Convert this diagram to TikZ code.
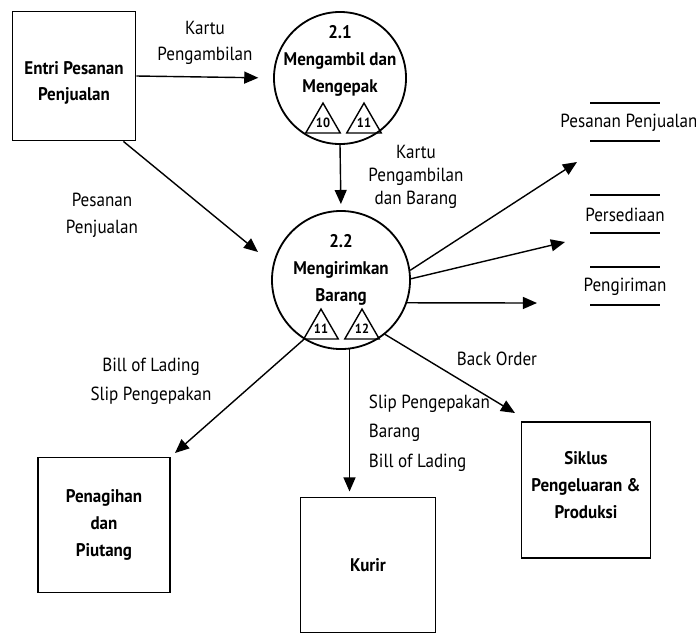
\documentclass[tikz,border=0pt]{standalone}
\usepackage{fontspec}
\setmainfont[FakeStretch=0.9]{PT Sans}
\newfontfamily\headfont[FakeStretch=0.93]{PT Sans Bold}
\usetikzlibrary{
  arrows.meta,
  calc,
  positioning,
  shapes.geometric
}
\tikzset{
  entity/.style = {
    draw, line width=1.3pt, align=center, inner sep=0pt,
    font=\headfont\fontsize{13}{19}\selectfont
  },
  process/.style = {draw, circle, line width=1.3pt, inner sep=0pt},
  ptext/.style = {align=center, font=\headfont\fontsize{13}{19}\selectfont},
  tri/.style = {
    draw, regular polygon, regular polygon sides=3, minimum size=0.9cm,
    inner sep=0pt, line width=1pt, font=\headfont\fontsize{9.5}{9.5}\selectfont
  },
  flow/.style = {line width=1pt, -{Triangle[length=10pt,width=8.5pt]}},
  lbl/.style = {align=center, font=\fontsize{13.5}{19}\selectfont},
  store/.style = {font=\fontsize{13.5}{15}\selectfont},
}

\begin{document}
\begin{tikzpicture}[x=0.025cm, y=-0.025cm]
  \useasboundingbox (0,0) rectangle (696,634);

  % entities
  \node[entity, minimum width=3.075cm, minimum height=3.225cm] (entri) at (74,76) {};
  \node[ptext] (entrit) at (74,83) {Entri Pesanan\\Penjualan};
  \node[entity, minimum width=3.3cm, minimum height=3.375cm] (tagih) at (104,525) {Penagihan\\dan\\Piutang};
  \node[entity, minimum width=3.375cm, minimum height=3.375cm] (kurir) at (368,565) {Kurir};
  \node[entity, minimum width=3.225cm, minimum height=3.4cm] (siklus) at (586,490) {};
  \node[ptext] (siklust) at (586,485) {Siklus\\Pengeluaran \&\\Produksi};

  % processes
  \node[process, minimum size=3.3cm] (p21) at (340,78) {};
  \node[ptext] (p21t) at (340,61) {2.1\\Mengambil dan\\Mengepak};
  \node[tri] (t10) at (323,123) {10};
  \node[tri] (t11a) at (364,123) {11};

  \node[process, minimum size=3.45cm] (p22) at (341,280) {};
  \node[ptext] (p22t) at (341,270) {2.2\\Mengirimkan\\Barang};
  \node[tri] (t11b) at (321,329) {11};
  \node[tri] (t12) at (362,329) {12};

  % data stores
  \foreach \n/\t/\x/\y in {sp/Pesanan Penjualan/629/123, sd/Persediaan/625/215, sk/Pengiriman/625/287} {
    \node[store] (\n) at (\x,\y) {\t};
    \draw[line width=1pt] (590,\y-20) -- (660,\y-20);
    \draw[line width=1pt] (590,\y+18) -- (660,\y+18);
  }

  % free arrow ends
  \coordinate (in22) at (258,252);
  \coordinate (insp) at (577,162);
  \coordinate (insd) at (565,242);
  \coordinate (insk) at (537,303);
  \coordinate (intagih) at (175,453);
  \coordinate (insiklus) at (515,413);

  % flows
  \draw[flow, shorten >=10.5pt] (entri.east) -- (p21.west);
  \draw[flow, shorten >=4.3pt] (p21.south) -- (p22.north);
  \draw[flow] ($(entri.south east)+(-13,0)$) -- (in22);
  \draw[flow] (p22.8) -- (insp);
  \draw[flow] (p22.1) -- (insd);
  \draw[flow] (p22.-19) -- (insk);
  \draw[flow] (p22.-122) -- (intagih);
  \draw[flow, shorten >=3.6pt] (p22.-83) -- (p22.-83 |- kurir.north);
  \draw[flow] (p22.-51) -- (insiklus);

  % labels
  \node[lbl] (lk1) at (205,43) {Kartu\\Pengambilan};
  \node[lbl] (lpp) at (102,215) {Pesanan\\Penjualan};
  \node[lbl, font=\fontsize{13.5}{16.5}\selectfont] (lk2) at (416,177) {Kartu\\Pengambilan\\dan Barang};
  \node[lbl, font=\fontsize{13.5}{20.5}\selectfont] (lbs) at (151,381) {Bill of Lading\\Slip Pengepakan};
  \node[lbl, align=left, anchor=west, font=\fontsize{13.5}{21}\selectfont] (lsb) at (364,433) {Slip Pengepakan\\Barang\\Bill of Lading};
  \node[lbl] (lbo) at (497,359) {Back Order};
\end{tikzpicture}
\end{document}
